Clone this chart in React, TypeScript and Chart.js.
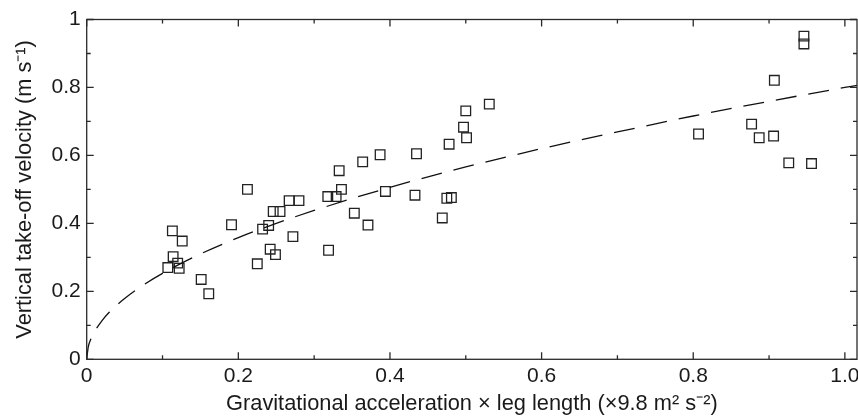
import { useEffect, useRef } from 'react';
import { Chart, registerables } from 'chart.js';

Chart.register(...registerables);

// Measured points: gravitational acceleration × leg length (x) vs vertical take-off velocity (y)
const accelLeg = [
  0.113, 0.126, 0.191, 0.114, 0.120, 0.107, 0.122, 0.151, 0.161,
  0.212, 0.333, 0.336, 0.318, 0.329, 0.267, 0.280, 0.246, 0.255, 0.240, 0.232,
  0.353, 0.272, 0.242, 0.249, 0.319, 0.225, 0.371,
  0.531, 0.500, 0.497, 0.501, 0.478, 0.435, 0.387, 0.364, 0.394, 0.433, 0.475, 0.481, 0.469,
  0.946, 0.946, 0.907, 0.877, 0.807, 0.887, 0.906, 0.926, 0.956,
];
const takeoffVel = [
  0.378, 0.348, 0.396, 0.302, 0.283, 0.270, 0.268, 0.235, 0.193,
  0.500, 0.555, 0.500, 0.479, 0.479, 0.467, 0.467, 0.435, 0.435, 0.394, 0.383,
  0.430, 0.361, 0.324, 0.308, 0.321, 0.281, 0.395,
  0.751, 0.731, 0.683, 0.652, 0.633, 0.605, 0.602, 0.581, 0.494, 0.483, 0.474, 0.476, 0.416,
  0.951, 0.928, 0.821, 0.692, 0.663, 0.652, 0.657, 0.578, 0.576,
];

// Dashed fitted curve
const fitX = [0, 0.002, 0.005, 0.01, 0.02, 0.03, 0.05, 0.075, 0.1, 0.15, 0.2, 0.25, 0.3, 0.4, 0.5, 0.6, 0.7, 0.8, 0.9, 1.0, 1.016];
const fitY = [0, 0.036, 0.057, 0.08, 0.113, 0.139, 0.179, 0.219, 0.253, 0.31, 0.358, 0.4, 0.438, 0.506, 0.566, 0.62, 0.669, 0.716, 0.759, 0.8, 0.806];

const xMajorTicks = [0, 0.2, 0.4, 0.6, 0.8, 1.0];
const xMinorTicks = [0.1, 0.3, 0.5, 0.7, 0.9];
const xTickLabels = ['0', '0.2', '0.4', '0.6', '0.8', '1.0'];
const yMajorTicks = [0, 0.2, 0.4, 0.6, 0.8, 1.0];
const yMinorTicks = [0.1, 0.3, 0.5, 0.7, 0.9];
const yTickLabels = ['0', '0.2', '0.4', '0.6', '0.8', '1'];

const xTitle = 'Gravitational acceleration × leg length (×9.8 m² s⁻²)';
const yTitle = 'Vertical take-off velocity (m s⁻¹)';

const FONT = "'Liberation Sans', Arial, Helvetica, sans-serif";
const INK = '#1a1a1a';

const frameTicks = {
  id: 'frameTicks',
  afterDatasetsDraw(chart: any) {
    const { ctx, chartArea: a, scales } = chart;
    const xs = scales.x;
    const ys = scales.y;
    ctx.save();
    ctx.strokeStyle = '#2a2a2a';
    ctx.lineWidth = 1.3;
    ctx.strokeRect(a.left, a.top, a.right - a.left, a.bottom - a.top);
    ctx.beginPath();
    const xt = (vals: number[], len: number) => vals.forEach((v) => {
      const px = xs.getPixelForValue(v);
      ctx.moveTo(px, a.bottom); ctx.lineTo(px, a.bottom - len);
      ctx.moveTo(px, a.top); ctx.lineTo(px, a.top + len);
    });
    const yt = (vals: number[], len: number) => vals.forEach((v) => {
      const py = ys.getPixelForValue(v);
      ctx.moveTo(a.left, py); ctx.lineTo(a.left + len, py);
      ctx.moveTo(a.right, py); ctx.lineTo(a.right - len, py);
    });
    xt(xMajorTicks, 7); xt(xMinorTicks, 4);
    yt(yMajorTicks, 7); yt(yMinorTicks, 4);
    ctx.stroke();
    ctx.restore();
  },
};

export default function App() {
  const ref = useRef<HTMLCanvasElement | null>(null);
  useEffect(() => {
    document.body.style.margin = '0';
    const points = accelLeg.map((x, i) => ({ x, y: takeoffVel[i] }));
    const fit = fitX.map((x, i) => ({ x, y: fitY[i] }));
    const chart = new Chart(ref.current as HTMLCanvasElement, {
      type: 'scatter',
      data: {
        datasets: [
          {
            data: fit,
            type: 'line',
            showLine: true,
            borderColor: '#111',
            borderWidth: 1.3,
            borderDash: [21, 12],
            pointRadius: 0,
            cubicInterpolationMode: 'monotone',
            fill: false,
          } as any,
          {
            data: points,
            pointStyle: 'rect',
            pointRadius: 6.8,
            pointBorderWidth: 1.3,
            borderColor: '#222',
            backgroundColor: 'rgba(0,0,0,0)',
            pointBackgroundColor: 'rgba(0,0,0,0)',
            pointBorderColor: '#222',
          } as any,
        ],
      },
      options: {
        animation: false,
        responsive: false,
        devicePixelRatio: 1,
        layout: { autoPadding: false, padding: { left: 0, right: 1, top: 19.5, bottom: 0 } },
        plugins: { legend: { display: false }, tooltip: { enabled: false } },
        scales: {
          x: {
            type: 'linear',
            min: 0,
            max: 1.016,
            grid: { display: false, drawTicks: false },
            border: { display: false },
            afterBuildTicks: (s: any) => { s.ticks = xMajorTicks.map((v) => ({ value: v })); },
            afterFit: (s: any) => { s.height = 59.7; s.paddingLeft = 0; s.paddingRight = 0; },
            ticks: {
              padding: 4,
              maxRotation: 0,
              autoSkip: false,
              color: INK,
              font: { family: FONT, size: 21 },
              callback: (_v: any, i: number) => xTickLabels[i],
            },
            title: {
              display: true,
              text: xTitle,
              color: INK,
              font: { family: FONT, size: 21.8 },
              padding: { top: 0, bottom: 2 },
            },
          },
          y: {
            type: 'linear',
            min: 0,
            max: 1,
            grid: { display: false, drawTicks: false },
            border: { display: false },
            afterBuildTicks: (s: any) => { s.ticks = yMajorTicks.map((v) => ({ value: v })); },
            afterFit: (s: any) => { s.width = 86.7; s.paddingTop = 0; s.paddingBottom = 0; },
            ticks: {
              padding: 6,
              autoSkip: false,
              color: INK,
              font: { family: FONT, size: 21 },
              callback: (_v: any, i: number) => yTickLabels[i],
            },
            title: {
              display: true,
              text: yTitle,
              color: INK,
              font: { family: FONT, size: 21.8 },
              padding: { top: 12, bottom: 0 },
            },
          },
        },
      } as any,
      plugins: [frameTicks],
    });
    return () => chart.destroy();
  }, []);
  return (
    <div style={{ width: 858, height: 419, background: '#fff' }}>
      <canvas ref={ref} width={858} height={419} style={{ display: 'block' }} />
    </div>
  );
}
